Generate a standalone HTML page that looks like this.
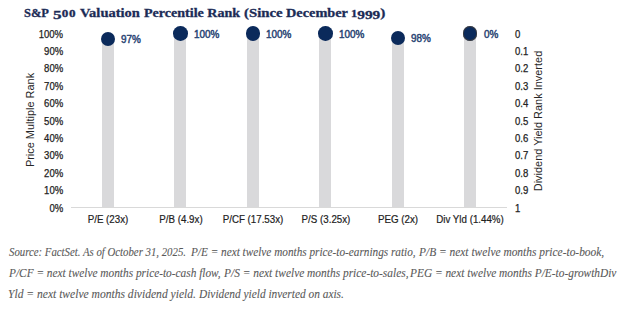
<!DOCTYPE html>
<html><head><meta charset="utf-8">
<style>
html,body{margin:0;padding:0;background:#fff;}
body{width:624px;height:309px;position:relative;overflow:hidden;}
.t{position:absolute;white-space:nowrap;}
.title{font:bold 13.1px/16px "Liberation Serif",serif;color:#1b2b56;transform-origin:0 50%;-webkit-text-stroke:0.3px #1b2b56;}
.os{font-size:0.76em;letter-spacing:0.06em}.od{position:relative;top:0.17em}.os1{font-size:0.81em}
.ax{font:10.6px/12px "Liberation Sans",sans-serif;color:#222;height:12px;-webkit-text-stroke:0.25px #222;}
.yl{right:561px;text-align:right;transform-origin:100% 50%;transform:scaleX(0.9);}
.yr{left:515px;transform-origin:0 50%;transform:scaleX(0.9);}
.bar{position:absolute;background:#d9d9db;width:12px;}
.dot{position:absolute;width:14.6px;height:14.6px;border-radius:50%;background:#0b2a5b;}
.pct{font:10px/12px "Liberation Sans",sans-serif;color:#2a4574;-webkit-text-stroke:0.45px #2a4574;transform-origin:0 50%;transform:scaleX(0.99);}
.cat{font:10.6px/12px "Liberation Sans",sans-serif;color:#222;-webkit-text-stroke:0.2px #222;width:100px;text-align:center;transform:scaleX(0.92);}
.axis{position:absolute;left:71px;top:207px;width:436px;height:1px;background:#d9d9d9;}
.foot{transform-origin:0 50%;font:italic 11.8px/13px "Liberation Serif",serif;color:#5a5a5a;-webkit-text-stroke:0.1px #5a5a5a;}
.rot{position:absolute;font:10.95px/12px "Liberation Sans",sans-serif;color:#262626;white-space:nowrap;width:160px;height:12px;text-align:center;}
</style></head><body>

<div class="t title" style="left:24.40px;top:4.6px;transform:scaleX(0.9538)">S&amp;P</div>
<div class="t title" style="left:53.00px;top:4.6px;transform:scaleX(1.3176)"><span class="od">5</span><span class="os">00</span></div>
<div class="t title" style="left:79.50px;top:4.6px;transform:scaleX(1.1056)">Valuation</div>
<div class="t title" style="left:144.00px;top:4.6px;transform:scaleX(1.0733)">Percentile Rank</div>
<div class="t title" style="left:244.00px;top:4.6px;transform:scaleX(1.1294)">(Since</div>
<div class="t title" style="left:285.50px;top:4.6px;transform:scaleX(1.0930)">December</div>
<div class="t title" style="left:350.53px;top:4.6px;transform:scaleX(1.1714)"><span class="os1">1</span><span class="od">999</span>)</div>
<div class="t ax yl" style="top:27.60px">100%</div>
<div class="t ax yr" style="top:27.60px">0</div>
<div class="t ax yl" style="top:44.99px">90%</div>
<div class="t ax yr" style="top:44.99px">0.1</div>
<div class="t ax yl" style="top:62.38px">80%</div>
<div class="t ax yr" style="top:62.38px">0.2</div>
<div class="t ax yl" style="top:79.77px">70%</div>
<div class="t ax yr" style="top:79.77px">0.3</div>
<div class="t ax yl" style="top:97.16px">60%</div>
<div class="t ax yr" style="top:97.16px">0.4</div>
<div class="t ax yl" style="top:114.55px">50%</div>
<div class="t ax yr" style="top:114.55px">0.5</div>
<div class="t ax yl" style="top:131.94px">40%</div>
<div class="t ax yr" style="top:131.94px">0.6</div>
<div class="t ax yl" style="top:149.33px">30%</div>
<div class="t ax yr" style="top:149.33px">0.7</div>
<div class="t ax yl" style="top:166.72px">20%</div>
<div class="t ax yr" style="top:166.72px">0.8</div>
<div class="t ax yl" style="top:184.11px">10%</div>
<div class="t ax yr" style="top:184.11px">0.9</div>
<div class="t ax yl" style="top:201.50px">0%</div>
<div class="t ax yr" style="top:201.50px">1</div>
<div class="rot" style="left:-49.60px;top:113.75px;transform:rotate(-90deg);">Price Multiple Rank</div>
<div class="rot" style="left:457.90px;top:114.60px;transform:rotate(-90deg);">Dividend Yield Rank Inverted</div>
<div class="axis"></div>
<div class="bar" style="left:101.90px;top:38.82px;height:168.68px"></div>
<div class="bar" style="left:174.38px;top:33.60px;height:173.90px"></div>
<div class="bar" style="left:246.86px;top:33.60px;height:173.90px"></div>
<div class="bar" style="left:319.34px;top:33.60px;height:173.90px"></div>
<div class="bar" style="left:391.82px;top:38.12px;height:169.38px"></div>
<div class="bar" style="left:464.30px;top:33.60px;height:173.90px"></div>
<div class="dot" style="left:100.60px;top:31.52px"></div>
<div class="t pct" style="left:121.30px;top:34.02px">97%</div>
<div class="dot" style="left:173.08px;top:26.30px"></div>
<div class="t pct" style="left:193.78px;top:28.80px">100%</div>
<div class="dot" style="left:245.56px;top:26.30px"></div>
<div class="t pct" style="left:266.26px;top:28.80px">100%</div>
<div class="dot" style="left:318.04px;top:26.30px"></div>
<div class="t pct" style="left:338.74px;top:28.80px">100%</div>
<div class="dot" style="left:390.52px;top:30.82px"></div>
<div class="t pct" style="left:411.22px;top:33.32px">98%</div>
<div class="dot" style="left:463.00px;top:26.30px;box-shadow:inset 0 0 0 0.9px rgba(75,65,55,0.75);margin-left:-0.4px"></div>
<div class="t pct" style="left:483.70px;top:28.80px">0%</div>
<div class="t cat" style="left:58.05px;top:213px">P/E (23x)</div>
<div class="t cat" style="left:130.85px;top:213px">P/B (4.9x)</div>
<div class="t cat" style="left:203.45px;top:213px">P/CF (17.53x)</div>
<div class="t cat" style="left:275.65px;top:213px">P/S (3.25x)</div>
<div class="t cat" style="left:348.15px;top:213px">PEG (2x)</div>
<div class="t cat" style="left:420.45px;top:213px">Div Yld (1.44%)</div>
<div class="t foot" style="left:9.40px;top:245.6px;transform:scaleX(0.9140)">Source: FactSet. As of October 31, 2025.</div>
<div class="t foot" style="left:190.80px;top:245.6px;transform:scaleX(0.9532)">P/E = next twelve months price-to-earnings ratio,</div>
<div class="t foot" style="left:419.10px;top:245.6px;transform:scaleX(0.9675)">P/B = next twelve months price-to-book,</div>
<div class="t foot" style="left:9.40px;top:266.6px;transform:scaleX(0.9605)">P/CF = next twelve months price-to-cash flow,</div>
<div class="t foot" style="left:223.50px;top:266.6px;transform:scaleX(0.9674)">P/S = next twelve months price-to-sales,</div>
<div class="t foot" style="left:410.20px;top:266.6px;transform:scaleX(0.9633)">PEG = next twelve months P/E-to-growthDiv</div>
<div class="t foot" style="left:8.42px;top:287.6px;transform:scaleX(0.9800)">Yld = next twelve months dividend yield.</div>
<div class="t foot" style="left:199.30px;top:287.6px;transform:scaleX(0.9633)">Dividend yield inverted on axis.</div>
</body></html>
